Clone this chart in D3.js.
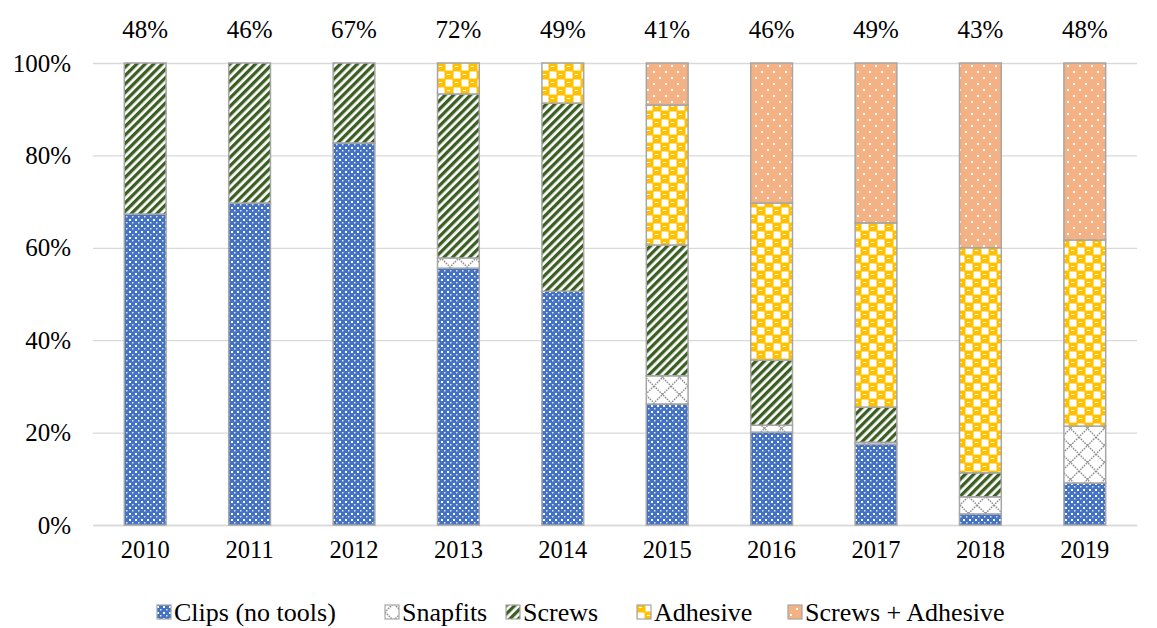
<!DOCTYPE html>
<html>
<head>
<meta charset="utf-8">
<script src="https://cdn.jsdelivr.net/npm/d3@7"></script>
<style>
  body { margin: 0; background: #fff; }
  text { font-family: "Liberation Serif", "Times New Roman", serif; fill: #000; }
</style>
</head>
<body>
<svg id="chart" width="1157" height="628"></svg>
<script>
const years = ["2010", "2011", "2012", "2013", "2014", "2015", "2016", "2017", "2018", "2019"];
const topLabels = ["48%", "46%", "67%", "72%", "49%", "41%", "46%", "49%", "43%", "48%"];
const seriesNames = ["Clips (no tools)", "Snapfits", "Screws", "Adhesive", "Screws + Adhesive"];
const clips     = [67.3, 69.7, 82.7, 55.6, 50.6, 26.2, 20.1, 17.5, 2.4, 9.1];
const snapfits  = [0, 0, 0, 2.2, 0, 6.1, 1.5, 0.4, 3.7, 12.3];
const screws    = [32.7, 30.3, 17.3, 35.5, 40.7, 28.3, 14.1, 7.6, 5.2, 0];
const adhesive  = [0, 0, 0, 6.7, 8.7, 30.3, 34.0, 39.9, 48.7, 40.3];
const screwsAdh = [0, 0, 0, 0, 0, 9.1, 30.3, 34.6, 40.0, 38.3];
const yTicks = [0, 20, 40, 60, 80, 100];

const svg = d3.select("#chart");
const margin = { top: 63, right: 20, bottom: 103, left: 93 };
const width = 1157 - margin.left - margin.right;
const height = 628 - margin.top - margin.bottom;

// patterns
const defs = svg.append("defs");

const pClips = defs.append("pattern").attr("id", "p0").attr("patternUnits", "userSpaceOnUse")
  .attr("width", 6).attr("height", 6);
pClips.append("rect").attr("width", 6).attr("height", 6).attr("fill", "#4472c4");
pClips.append("rect").attr("x", 0).attr("y", 0).attr("width", 2).attr("height", 2).attr("fill", "#fff");
pClips.append("rect").attr("x", 3).attr("y", 3).attr("width", 1.5).attr("height", 1.5).attr("fill", "#dfe6f5");

const pSnap = defs.append("pattern").attr("id", "p1").attr("patternUnits", "userSpaceOnUse")
  .attr("width", 17).attr("height", 17);
pSnap.append("rect").attr("width", 17).attr("height", 17).attr("fill", "#fff");
pSnap.append("path").attr("d", "M0,0L17,17M17,0L0,17")
  .attr("stroke", "#8c8c8c").attr("stroke-width", 1.4).attr("stroke-dasharray", "1.6 1");

const pScrews = defs.append("pattern").attr("id", "p2").attr("patternUnits", "userSpaceOnUse")
  .attr("width", 6).attr("height", 6).attr("patternTransform", "rotate(45)");
pScrews.append("rect").attr("width", 6).attr("height", 6).attr("fill", "#fff");
pScrews.append("rect").attr("width", 3.3).attr("height", 6).attr("fill", "#3b5e22");

const pAdh = defs.append("pattern").attr("id", "p3").attr("patternUnits", "userSpaceOnUse")
  .attr("width", 16).attr("height", 16);
pAdh.append("rect").attr("width", 16).attr("height", 16).attr("fill", "#ffc000");
pAdh.append("rect").attr("x", 0.5).attr("y", 0.5).attr("width", 7).attr("height", 7).attr("fill", "#fff");
pAdh.append("rect").attr("x", 8.5).attr("y", 8.5).attr("width", 7).attr("height", 7).attr("fill", "#fff");
pAdh.append("rect").attr("x", 10).attr("y", 3).attr("width", 3).attr("height", 1).attr("fill", "#fff");
pAdh.append("rect").attr("x", 2).attr("y", 11).attr("width", 3).attr("height", 1).attr("fill", "#fff");

const pSA = defs.append("pattern").attr("id", "p4").attr("patternUnits", "userSpaceOnUse")
  .attr("width", 12).attr("height", 12);
pSA.append("rect").attr("width", 12).attr("height", 12).attr("fill", "#f4b183");
pSA.append("rect").attr("x", 2).attr("y", 2).attr("width", 2).attr("height", 2).attr("fill", "#fff");
pSA.append("rect").attr("x", 8).attr("y", 8).attr("width", 2).attr("height", 2).attr("fill", "#fff");

const g = svg.append("g").attr("transform", `translate(${margin.left},${margin.top})`);

const x = d3.scaleBand().domain(years).range([0, width]).paddingInner(0.6).paddingOuter(0.3);
const y = d3.scaleLinear().domain([0, 100]).range([height, 0]);

// gridlines + y labels
g.append("g")
  .call(d3.axisLeft(y).tickValues(yTicks).tickFormat(d => d + "%").tickSize(-width).tickPadding(22))
  .call(a => a.select(".domain").remove())
  .call(a => a.selectAll("line").attr("stroke", "#d9d9d9").attr("stroke-width", 1.3))
  .call(a => a.selectAll("text").style("font-size", "25px").style("font-family", "Liberation Serif"));

// x axis
g.append("g")
  .attr("transform", `translate(0,${height})`)
  .call(d3.axisBottom(x).tickSize(0).tickPadding(16))
  .call(a => a.select(".domain").attr("stroke", "#d9d9d9").attr("stroke-width", 1.3))
  .call(a => a.selectAll("text").style("font-size", "24.5px").style("font-family", "Liberation Serif"));

// stacked bars
const table = years.map((yr, i) => ({
  year: yr, s0: clips[i], s1: snapfits[i], s2: screws[i], s3: adhesive[i], s4: screwsAdh[i]
}));
const stack = d3.stack().keys(["s0", "s1", "s2", "s3", "s4"]);
const layers = stack(table);

g.selectAll(".layer")
  .data(layers)
  .join("g")
  .attr("class", "layer")
  .attr("fill", (d, i) => `url(#p${i})`)
  .selectAll("rect")
  .data(d => d.filter(v => v[1] - v[0] > 0))
  .join("rect")
  .attr("x", d => x(d.data.year))
  .attr("y", d => y(d[1]))
  .attr("width", x.bandwidth())
  .attr("height", d => y(d[0]) - y(d[1]))
  .attr("stroke", "#a6a6a6")
  .attr("stroke-width", 1.5);

// top labels
g.selectAll(".toplabel")
  .data(years)
  .join("text")
  .attr("class", "toplabel")
  .attr("x", d => x(d) + x.bandwidth() / 2)
  .attr("y", -25)
  .attr("text-anchor", "middle")
  .style("font-size", "25px")
  .style("font-family", "Liberation Serif")
  .text((d, i) => topLabels[i]);

// legend
const legendX = [157, 385, 506, 637, 788];
const legend = svg.append("g").attr("transform", "translate(0,612)");
const items = legend.selectAll("g")
  .data(seriesNames)
  .join("g")
  .attr("transform", (d, i) => `translate(${legendX[i]},0)`);
items.append("rect")
  .attr("x", 0).attr("y", -7).attr("width", 14).attr("height", 14)
  .attr("fill", (d, i) => `url(#p${i})`)
  .attr("stroke", "#a6a6a6").attr("stroke-width", 1.2);
items.append("text")
  .attr("x", 17).attr("y", 0).attr("dy", "0.35em")
  .style("font-size", "26px")
  .style("font-family", "Liberation Serif")
  .text(d => d);
</script>
</body>
</html>
